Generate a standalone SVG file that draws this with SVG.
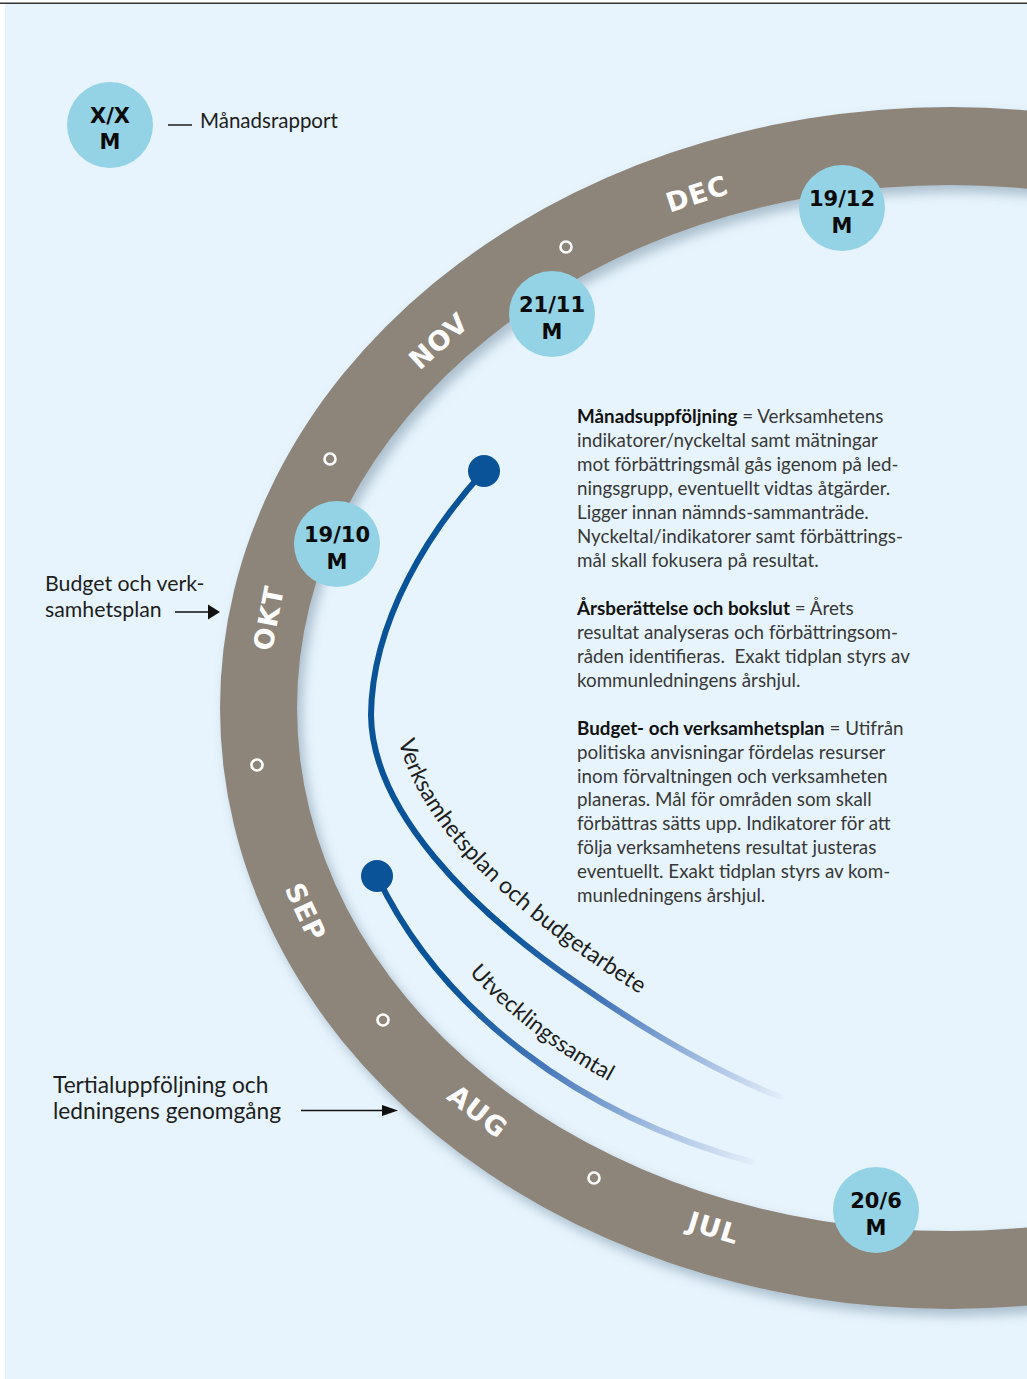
<svg xmlns="http://www.w3.org/2000/svg" width="1027" height="1379" viewBox="0 0 1027 1379">
  <style>
    .body { font-family: Lato, "Liberation Sans", sans-serif; font-size: 18.8px; fill: #383838; }
    .b { font-weight: 700; fill: #111; }
    .label { font-family: Lato, "Liberation Sans", sans-serif; font-size: 20.5px; fill: #1e1e1e; }
    .label-l { font-family: Lato, "Liberation Sans", sans-serif; font-size: 21.3px; fill: #1e1e1e; }
    .label-xl { font-family: Lato, "Liberation Sans", sans-serif; font-size: 22.7px; fill: #1e1e1e; }
    .curve-text { font-family: Lato, "Liberation Sans", sans-serif; font-size: 23px; fill: #1e1e1e; }
    .curve-text-s { font-family: Lato, "Liberation Sans", sans-serif; font-size: 22.4px; fill: #1e1e1e; }
    .date { font-family: "DejaVu Sans", sans-serif; font-weight: 700; font-size: 21px; fill: #0a0a0a; text-anchor: middle; }
    .month { font-family: "DejaVu Sans", sans-serif; font-weight: 700; font-size: 27px; fill: #ffffff; text-anchor: middle; letter-spacing: 1px; }
    .dot { fill: #94d3e5; }
    .tick { fill: none; stroke: #ffffff; stroke-width: 2.6; }
    .track { fill: none; stroke-width: 6; stroke-linecap: round; }
  </style>
  <defs>
    <filter id="ringShadow" x="-10%" y="-10%" width="130%" height="130%">
      <feDropShadow dx="5" dy="7" stdDeviation="6" flood-color="#5f7a90" flood-opacity="0.45"/>
    </filter>
    <linearGradient id="fadeA" gradientUnits="userSpaceOnUse" x1="500" y1="925" x2="782" y2="1098">
      <stop offset="0" stop-color="#0a5399"/>
      <stop offset="0.35" stop-color="#3d70b5"/>
      <stop offset="0.7" stop-color="#9ab6df"/>
      <stop offset="1" stop-color="#e4eef9"/>
    </linearGradient>
    <linearGradient id="fadeB" gradientUnits="userSpaceOnUse" x1="450" y1="985" x2="754" y2="1164">
      <stop offset="0" stop-color="#0a5399"/>
      <stop offset="0.35" stop-color="#4878bb"/>
      <stop offset="0.7" stop-color="#a3bde2"/>
      <stop offset="1" stop-color="#e4eef9"/>
    </linearGradient>
    <path id="pathA" d="M393,700 C394,800 486,890 594,964 C644,998 712,1042 792,1074"/>
    <path id="pathB" d="M400,873 A590,458 0 0 0 950,1166"/>
  </defs>

  <!-- page -->
  <rect x="0" y="0" width="1027" height="1379" fill="#ffffff"/>
  <rect x="5" y="4" width="1022" height="1375" fill="#e7f4fd"/>
  <line x1="0" y1="3.3" x2="1027" y2="3.3" stroke="#333333" stroke-width="1.6"/>

  <!-- year ring -->
  <g id="ring">
    <path filter="url(#ringShadow)" fill="#8e857a" fill-rule="evenodd"
          d="M220,708 A730,601 0 1 0 1680,708 A730,601 0 1 0 220,708 Z M297,708 A653,523 0 1 0 1603,708 A653,523 0 1 0 297,708 Z"/>
    <text class="month" transform="translate(700,203) rotate(-18)">DEC</text>
    <text class="month" transform="translate(445,348) rotate(-42)">NOV</text>
    <text class="month" transform="translate(278,620) rotate(-79)">OKT</text>
    <text class="month" transform="translate(297,916) rotate(65)">SEP</text>
    <text class="month" transform="translate(472,1119) rotate(38)">AUG</text>
    <text class="month" transform="translate(711,1237) rotate(17)">JUL</text>
    <circle class="tick" cx="566" cy="247" r="5.5"/>
    <circle class="tick" cx="330" cy="459" r="5.5"/>
    <circle class="tick" cx="257" cy="765" r="5.5"/>
    <circle class="tick" cx="383" cy="1020" r="5.5"/>
    <circle class="tick" cx="594" cy="1178" r="5.5"/>
  </g>

  <!-- connectors: process tracks and pointer arrows -->
  <g id="connectors">
    <path class="track" stroke="url(#fadeA)" d="M484,471 C430,530 372,620 371,715 C372,810 470,910 580,985 C630,1020 700,1065 780,1097"/>
    <path class="track" stroke="url(#fadeB)" d="M377,876 A612,480 0 0 0 752,1162"/>
    <line x1="168" y1="125" x2="192" y2="125" stroke="#1e1e1e" stroke-width="1.5"/>
    <line x1="175" y1="612" x2="210" y2="612" stroke="#111" stroke-width="1.6"/>
    <polygon points="208,604.5 220,612 208,619.5" fill="#111"/>
    <line x1="301" y1="1110.5" x2="385" y2="1110.5" stroke="#111" stroke-width="1.6"/>
    <polygon points="382,1105 398,1110.5 382,1116" fill="#111"/>
  </g>

  <!-- track start points and labels -->
  <g id="track-budget">
    <circle cx="484" cy="471" r="16" fill="#0a5399"/>
    <text class="curve-text"><textPath href="#pathA" startOffset="42">Verksamhetsplan och budgetarbete</textPath></text>
  </g>
  <g id="track-talks">
    <circle cx="377" cy="876" r="16" fill="#0a5399"/>
    <text class="curve-text-s"><textPath href="#pathB" startOffset="122">Utvecklingssamtal</textPath></text>
  </g>

  <!-- monthly report markers -->
  <g id="legend-marker">
    <circle class="dot" cx="110" cy="125" r="43"/>
    <text class="date" x="110" y="123">X/X</text>
    <text class="date" x="110" y="149">M</text>
    <text class="label" x="200" y="128">Månadsrapport</text>
  </g>
  <g id="m-1912">
    <circle class="dot" cx="842" cy="208" r="43"/>
    <text class="date" x="842" y="206">19/12</text>
    <text class="date" x="842" y="233">M</text>
  </g>
  <g id="m-2111">
    <circle class="dot" cx="552" cy="314" r="43"/>
    <text class="date" x="552" y="312">21/11</text>
    <text class="date" x="552" y="339">M</text>
  </g>
  <g id="m-1910">
    <circle class="dot" cx="337" cy="544" r="43"/>
    <text class="date" x="337" y="542">19/10</text>
    <text class="date" x="337" y="569">M</text>
  </g>
  <g id="m-206">
    <circle class="dot" cx="876" cy="1210" r="43"/>
    <text class="date" x="876" y="1208">20/6</text>
    <text class="date" x="876" y="1235">M</text>
  </g>

  <!-- side labels -->
  <g id="label-budget">
    <text class="label-l" x="45" y="591">Budget och verk-</text>
    <text class="label-l" x="45" y="617">samhetsplan</text>
  </g>
  <g id="label-tertial">
    <text class="label-xl" x="53" y="1093">Tertialuppföljning och</text>
    <text class="label-xl" x="53" y="1119">ledningens genomgång</text>
  </g>

  <!-- explanations -->
  <g id="note-month">
    <text class="body" x="577" y="423"><tspan class="b">Månadsuppföljning</tspan> = Verksamhetens</text>
    <text class="body" x="577" y="447">indikatorer/nyckeltal samt mätningar</text>
    <text class="body" x="577" y="471">mot förbättringsmål gås igenom på led-</text>
    <text class="body" x="577" y="495">ningsgrupp, eventuellt vidtas åtgärder.</text>
    <text class="body" x="577" y="519">Ligger innan nämnds-sammanträde.</text>
    <text class="body" x="577" y="543">Nyckeltal/indikatorer samt förbättrings-</text>
    <text class="body" x="577" y="567">mål skall fokusera på resultat.</text>
  </g>
  <g id="note-annual">
    <text class="body" x="577" y="615"><tspan class="b">Årsberättelse och bokslut</tspan> = Årets</text>
    <text class="body" x="577" y="639">resultat analyseras och förbättringsom-</text>
    <text class="body" x="577" y="663">råden identifieras.&#160; Exakt tidplan styrs av</text>
    <text class="body" x="577" y="687">kommunledningens årshjul.</text>
  </g>
  <g id="note-budget">
    <text class="body" x="577" y="735"><tspan class="b">Budget- och verksamhetsplan</tspan> = Utifrån</text>
    <text class="body" x="577" y="758.8">politiska anvisningar fördelas resurser</text>
    <text class="body" x="577" y="782.6">inom förvaltningen och verksamheten</text>
    <text class="body" x="577" y="806.4">planeras. Mål för områden som skall</text>
    <text class="body" x="577" y="830.2">förbättras sätts upp. Indikatorer för att</text>
    <text class="body" x="577" y="854">följa verksamhetens resultat justeras</text>
    <text class="body" x="577" y="877.8">eventuellt. Exakt tidplan styrs av kom-</text>
    <text class="body" x="577" y="901.6">munledningens årshjul.</text>
  </g>
</svg>
